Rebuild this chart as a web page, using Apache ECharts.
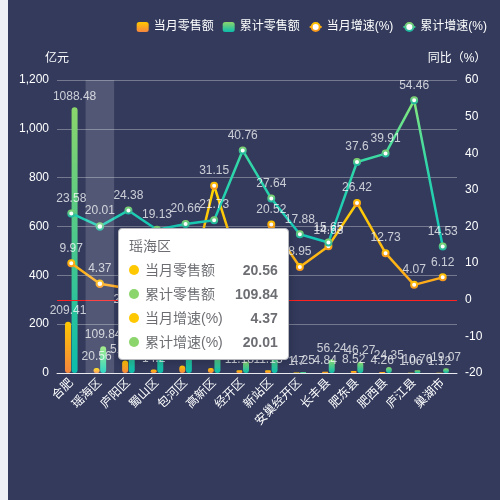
<!DOCTYPE html>
<html><head><meta charset="utf-8">
<script src="https://cdn.jsdelivr.net/npm/echarts@6/dist/echarts.min.js"></script>
<style>
html,body{margin:0;padding:0;background:#eef0f5;width:500px;height:500px;overflow:hidden}
#c{position:absolute;left:8px;top:0;width:492px;height:500px;background:#333a5c}
</style></head><body><div id="c"></div>
<script>
const categories = ['合肥','瑶海区','庐阳区','蜀山区','包河区','高新区','经开区','新站区','安巢经开区','长丰县','肥东县','肥西县','庐江县','巢湖市'];
const monthRetail = [209.41, 20.56, 51.27, 14.2, 30.4, 20.1, 11.18, 11.13, 1.7, 4.84, 8.52, 4.26, 1.06, 1.12];
const cumRetail = [1088.48, 109.84, 254.37, 289.35, 268.6, 98.7, 47.3, 98.6, 4.25, 56.24, 46.27, 24.35, 10.76, 19.07];
const monthGrowth = [9.97, 4.37, 3.1, 1.5, -0.9, 31.15, 6.3, 20.52, 8.95, 14.63, 26.42, 12.73, 4.07, 6.12];
const cumGrowth = [23.58, 20.01, 24.38, 19.13, 20.66, 21.73, 40.76, 27.64, 17.88, 15.65, 37.6, 39.91, 54.46, 14.53];
const seriesNames = ['当月零售额','累计零售额','当月增速(%)','累计增速(%)'];

const grad = (a, b) => new echarts.graphic.LinearGradient(0, 0, 0, 1, [{offset:0,color:a},{offset:1,color:b}]);
const grad3 = (a, m, b) => new echarts.graphic.LinearGradient(0, 0, 0, 1, [{offset:0,color:a},{offset:0.45,color:m},{offset:1,color:b}]);
const labelColor = 'rgba(255,255,255,0.75)';
const FONT = "'Liberation Sans','Noto Sans CJK SC',sans-serif";

const chart = echarts.init(document.getElementById('c'));
const option = {
  animation: false,
  textStyle: {fontFamily: FONT},
  legend: {
    top: 16, right: 8, itemWidth: 12, itemHeight: 10, itemGap: 9,
    textStyle: {color: '#fff', fontSize: 12},
    data: [
      {name: seriesNames[0], icon: 'roundRect'},
      {name: seriesNames[1], icon: 'roundRect'},
      {name: seriesNames[2]},
      {name: seriesNames[3]}
    ]
  },
  tooltip: {
    trigger: 'axis',
    alwaysShowContent: true,
    transitionDuration: 0,
    position: [110, 228],
    axisPointer: {type: 'shadow', shadowStyle: {color: 'rgba(255,255,255,0.15)'}},
    textStyle: {fontFamily: FONT}
  },
  grid: {left: 49, right: 43, top: 80, bottom: 127},
  xAxis: {
    type: 'category', data: categories,
    axisLine: {lineStyle: {color: '#e8e9ef'}},
    axisTick: {lineStyle: {color: '#e8e9ef'}},
    axisLabel: {color: '#fff', fontSize: 12, rotate: 45, interval: 0}
  },
  yAxis: [
    {type: 'value', name: '亿元', min: 0, max: 1200, interval: 200,
     nameTextStyle: {color: '#fff', fontSize: 12},
     axisLine: {show: false}, axisTick: {show: false},
     axisLabel: {color: '#fff', fontSize: 12},
     splitLine: {lineStyle: {color: 'rgba(255,255,255,0.32)'}}},
    {type: 'value', name: '同比（%）', min: -20, max: 60, interval: 10,
     nameTextStyle: {color: '#fff', fontSize: 12},
     axisLine: {show: false}, axisTick: {show: false},
     axisLabel: {color: '#fff', fontSize: 12},
     splitLine: {show: false}}
  ],
  series: [
    {name: seriesNames[0], type: 'bar', data: monthRetail, barWidth: 6, barGap: '10%',
     itemStyle: {color: grad('#ffc800', '#f5853f'), borderRadius: 3},
     label: {show: true, position: 'top', color: labelColor, fontSize: 12}},
    {name: seriesNames[1], type: 'bar', data: cumRetail, barWidth: 6,
     itemStyle: {color: grad('#8bd56c', '#0cbcab'), borderRadius: 3},
     label: {show: true, position: 'top', color: labelColor, fontSize: 12}},
    {name: seriesNames[2], type: 'line', yAxisIndex: 1, data: monthGrowth,
     symbol: 'emptyCircle', symbolSize: 6,
     itemStyle: {color: grad('#ffc800', '#f7931e'), borderWidth: 2},
     lineStyle: {width: 2.5, color: grad('#ffc400', '#f7931e')},
     label: {show: true, position: 'top', color: labelColor, fontSize: 12}},
    {name: seriesNames[3], type: 'line', yAxisIndex: 1, data: cumGrowth,
     symbol: 'emptyCircle', symbolSize: 6,
     itemStyle: {color: grad('#8bd56c', '#13b5a6'), borderWidth: 2},
     lineStyle: {width: 2.5, color: grad3('#7ed46f', '#2cc39a', '#10b4a8')},
     label: {show: true, position: 'top', color: labelColor, fontSize: 12},
     markLine: {silent: true, symbol: 'none', label: {show: false},
       lineStyle: {color: '#ff2222', type: 'solid', width: 1},
       data: [{yAxis: 0}]}}
  ]
};
chart.setOption(option);
chart.dispatchAction({type: 'showTip', seriesIndex: 0, dataIndex: 1});
</script></body></html>
